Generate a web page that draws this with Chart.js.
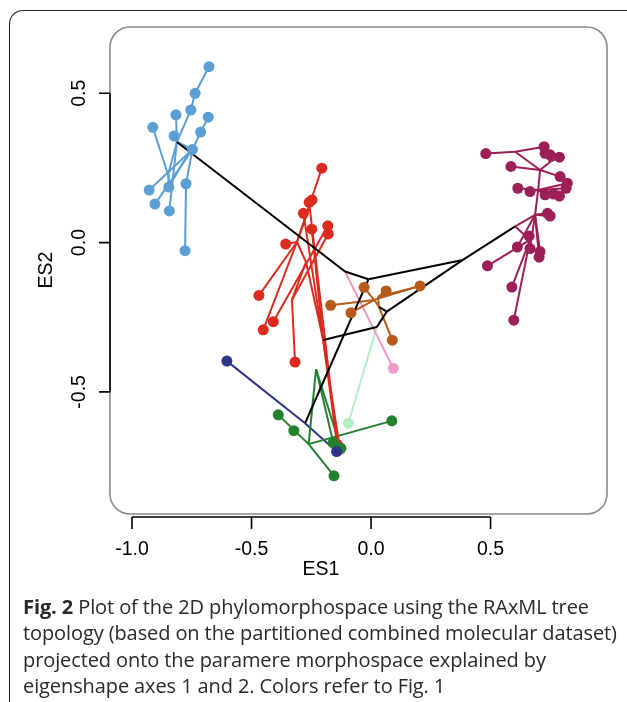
<!DOCTYPE html>
<html lang="en">
<head>
  <meta charset="UTF-8" />
  <title>Phylomorphospace ES1 / ES2</title>
  <script src="https://cdn.jsdelivr.net/npm/chart.js"></script>
  <style>
    html, body { margin: 0; padding: 0; background: #fff; }
    body { width: 627px; height: 702px; position: relative; overflow: hidden; }
    #frame {
      position: absolute; left: 9px; top: 10px; width: 700px; height: 800px;
      border-top: 1.5px solid #222; border-left: 1.5px solid #222;
      border-top-left-radius: 14px;
    }
    #wrap { position: absolute; left: 0; top: 0; width: 627px; height: 600px; }
    #caption {
      position: absolute; left: 23px; top: 594px; width: 604px;
      font-family: "Open Sans", sans-serif; font-size: 20px; line-height: 26.3px;
      letter-spacing: -0.1px; color: #2a2a2a; white-space: nowrap;
    }
    #caption b { font-weight: 700; }
  </style>
</head>
<body>
  <div id="frame"></div>
  <div id="wrap"><canvas id="chart" width="627" height="600"></canvas></div>
  <div id="caption">
    <b>Fig. 2</b> Plot of the 2D phylomorphospace using the RAxML tree<br>
    topology (based on the partitioned combined molecular dataset)<br>
    projected onto the paramere morphospace explained by<br>
    eigenshape axes 1 and 2. Colors refer to Fig. 1
  </div>

<script>
  // axis ticks
  const xTicks = [-1.0, -0.5, 0.0, 0.5];
  const xTickLabels = ['-1.0', '-0.5', '0.0', '0.5'];
  const yTicks = [-0.5, 0.0, 0.5];
  const yTickLabels = ['-0.5', '0.0', '0.5'];

  // tips (ES1, ES2), one list per clade colour
  const blueTips = [[-0.678,0.589],[-0.736,0.500],[-0.754,0.444],[-0.816,0.428],[-0.681,0.420],
    [-0.913,0.386],[-0.713,0.370],[-0.824,0.357],[-0.747,0.312],[-0.928,0.176],[-0.846,0.186],
    [-0.774,0.197],[-0.904,0.129],[-0.844,0.106],[-0.778,-0.027]];
  const redTips = [[-0.206,0.249],[-0.259,0.135],[-0.247,0.143],[-0.283,0.098],[-0.248,0.045],
    [-0.181,0.056],[-0.179,0.029],[-0.357,-0.005],[-0.469,-0.177],[-0.409,-0.265],[-0.451,-0.292],
    [-0.318,-0.400],[-0.142,-0.675],[-0.130,-0.692]];
  const brownTips = [[-0.029,-0.150],[0.063,-0.162],[0.205,-0.145],[-0.169,-0.210],[-0.084,-0.235],[0.089,-0.327]];
  const pinkTips = [[0.093,-0.421]];
  const paleGreenTips = [[-0.095,-0.605]];
  const greenTips = [[-0.388,-0.577],[-0.323,-0.630],[-0.155,-0.781],[0.087,-0.597],[-0.158,-0.670],[-0.126,-0.689]];
  const navyTips = [[-0.603,-0.397],[-0.144,-0.700]];
  const magentaTips = [[0.480,0.298],[0.724,0.321],[0.728,0.299],[0.749,0.294],[0.788,0.286],
    [0.585,0.255],[0.791,0.221],[0.821,0.199],[0.816,0.182],[0.614,0.182],[0.665,0.171],
    [0.728,0.160],[0.763,0.163],[0.788,0.156],[0.738,0.098],[0.749,0.089],[0.661,0.022],
    [0.612,-0.015],[0.665,-0.020],[0.707,-0.030],[0.703,-0.049],[0.487,-0.078],[0.589,-0.149],[0.597,-0.260]];

  // tree branches [x1, y1, x2, y2]
  const blackEdges = [
    [-0.812,0.337,-0.109,-0.097], [-0.109,-0.097,-0.011,-0.123], [-0.011,-0.123,0.384,-0.058],
    [0.384,-0.058,0.603,0.054], [0.384,-0.058,0.066,-0.231], [0.066,-0.231,0.024,-0.283],
    [0.066,-0.231,0.033,-0.215], [0.024,-0.283,-0.200,-0.326], [-0.011,-0.123,-0.276,-0.605]
  ];
  const blueEdges = [
    [-0.678,0.589,-0.736,0.500], [-0.736,0.500,-0.754,0.444], [-0.754,0.444,-0.812,0.337],
    [-0.816,0.428,-0.812,0.337], [-0.824,0.357,-0.812,0.337], [-0.913,0.386,-0.849,0.227],
    [-0.849,0.227,-0.812,0.337], [-0.849,0.227,-0.846,0.186], [-0.681,0.420,-0.713,0.370],
    [-0.713,0.370,-0.747,0.312], [-0.747,0.312,-0.774,0.197], [-0.774,0.197,-0.778,-0.027],
    [-0.747,0.312,-0.928,0.176], [-0.747,0.312,-0.904,0.129], [-0.812,0.337,-0.844,0.106],
    [-0.812,0.337,-0.747,0.312], [-0.846,0.186,-0.770,0.290]
  ];
  const redEdges = [
    [-0.206,0.249,-0.310,0.002], [-0.310,0.002,-0.469,-0.177], [-0.310,0.002,-0.451,-0.292],
    [-0.310,0.002,-0.357,-0.005], [-0.310,0.002,-0.272,-0.065], [-0.272,-0.065,-0.200,-0.326],
    [-0.259,0.135,-0.142,-0.675], [-0.283,0.098,-0.130,-0.692], [-0.248,0.045,-0.200,-0.326],
    [-0.181,0.056,-0.409,-0.265], [-0.179,0.029,-0.331,-0.192], [-0.331,-0.192,-0.318,-0.400],
    [-0.331,-0.192,-0.272,-0.065], [-0.247,0.143,-0.310,0.002], [-0.200,-0.326,-0.142,-0.675]
  ];
  const brownEdges = [
    [0.033,-0.215,0.089,-0.327], [0.033,-0.215,0.013,-0.192], [0.013,-0.192,-0.029,-0.150],
    [0.013,-0.192,-0.169,-0.210], [0.013,-0.192,-0.084,-0.235], [0.033,-0.215,0.029,-0.182],
    [0.029,-0.182,0.205,-0.145], [0.029,-0.182,0.063,-0.162], [0.013,-0.192,0.205,-0.145]
  ];
  const pinkEdges = [[-0.109,-0.097,0.093,-0.421]];
  const paleGreenEdges = [[0.024,-0.283,-0.095,-0.605]];
  const navyEdges = [[-0.276,-0.605,-0.603,-0.397], [-0.276,-0.605,-0.144,-0.700]];
  const greenEdges = [
    [-0.230,-0.424,-0.261,-0.675], [-0.230,-0.424,-0.158,-0.670], [-0.230,-0.424,-0.126,-0.689],
    [-0.261,-0.675,-0.388,-0.577], [-0.261,-0.675,-0.155,-0.781], [-0.261,-0.675,0.087,-0.597]
  ];
  const magentaEdges = [
    [0.603,0.054,0.665,0.009], [0.603,0.054,0.686,0.093],
    [0.665,0.009,0.597,-0.260], [0.665,0.009,0.589,-0.149], [0.665,0.009,0.487,-0.078], [0.665,0.009,0.661,0.022],
    [0.686,0.093,0.707,-0.030], [0.686,0.093,0.703,-0.049], [0.686,0.093,0.612,-0.015], [0.686,0.093,0.665,-0.020],
    [0.686,0.093,0.738,0.098], [0.686,0.093,0.749,0.089], [0.686,0.093,0.699,0.176],
    [0.699,0.176,0.614,0.182], [0.699,0.176,0.665,0.171], [0.699,0.176,0.728,0.160], [0.699,0.176,0.763,0.163],
    [0.699,0.176,0.788,0.156], [0.699,0.176,0.816,0.182], [0.699,0.176,0.821,0.199], [0.699,0.176,0.707,0.243],
    [0.707,0.243,0.791,0.221], [0.707,0.243,0.585,0.255], [0.707,0.243,0.603,0.304], [0.707,0.243,0.749,0.270],
    [0.603,0.304,0.480,0.298], [0.603,0.304,0.724,0.321],
    [0.749,0.270,0.728,0.299], [0.749,0.270,0.749,0.294], [0.749,0.270,0.788,0.286]
  ];

  const groups = [
    { tips: [], edges: blackEdges, color: '#000000' },
    { tips: blueTips, edges: blueEdges, color: '#5b9fd4' },
    { tips: redTips, edges: redEdges, color: '#dc2a1e' },
    { tips: magentaTips, edges: magentaEdges, color: '#9c1f58' },
    { tips: brownTips, edges: brownEdges, color: '#b65a1c' },
    { tips: pinkTips, edges: pinkEdges, color: '#f09ac6' },
    { tips: paleGreenTips, edges: paleGreenEdges, color: '#b4ecc4' },
    { tips: greenTips, edges: greenEdges, color: '#22802f' },
    { tips: navyTips, edges: navyEdges, color: '#2e3588' }
  ];

  const datasets = [];
  groups.forEach((g, gi) => {
    g.edges.forEach(e => {
      datasets.push({
        data: [{ x: e[0], y: e[1] }, { x: e[2], y: e[3] }],
        showLine: true, borderColor: g.color, borderWidth: 2,
        pointRadius: 0, order: 100
      });
    });
    if (g.tips.length) {
      datasets.push({
        data: g.tips.map(p => ({ x: p[0], y: p[1] })),
        showLine: false, pointRadius: 5.5, pointBorderWidth: 0,
        backgroundColor: g.color, borderColor: g.color, order: 50 - gi
      });
    }
  });

  const font = "19.5px 'Liberation Sans', Arial, sans-serif";

  const rAxes = {
    id: 'rAxes',
    beforeDatasetsDraw(chart) {
      const { ctx, chartArea: a } = chart;
      ctx.save();
      ctx.strokeStyle = '#8a8a8a';
      ctx.lineWidth = 1.6;
      ctx.beginPath();
      ctx.roundRect(a.left, a.top, a.right - a.left, a.bottom - a.top, 20);
      ctx.stroke();
      ctx.restore();
    },
    afterDraw(chart) {
      const { ctx, chartArea: a, scales: { x, y } } = chart;
      ctx.save();
      ctx.strokeStyle = '#000';
      ctx.fillStyle = '#000';
      ctx.lineWidth = 1.6;
      ctx.font = font;

      // x axis
      const ay = a.bottom + 3;
      ctx.beginPath();
      ctx.moveTo(x.getPixelForValue(xTicks[0]), ay);
      ctx.lineTo(x.getPixelForValue(xTicks[xTicks.length - 1]), ay);
      xTicks.forEach(v => {
        const px = x.getPixelForValue(v);
        ctx.moveTo(px, ay);
        ctx.lineTo(px, ay + 12);
      });
      ctx.stroke();
      ctx.textAlign = 'center';
      ctx.textBaseline = 'middle';
      xTicks.forEach((v, i) => ctx.fillText(xTickLabels[i], x.getPixelForValue(v), ay + 33));
      ctx.fillText('ES1', 321, ay + 53);

      // y axis
      const ax = a.left;
      ctx.beginPath();
      ctx.moveTo(ax, y.getPixelForValue(yTicks[0]));
      ctx.lineTo(ax, y.getPixelForValue(yTicks[yTicks.length - 1]));
      yTicks.forEach(v => {
        const py = y.getPixelForValue(v);
        ctx.moveTo(ax, py);
        ctx.lineTo(ax - 11, py);
      });
      ctx.stroke();
      yTicks.forEach((v, i) => {
        ctx.save();
        ctx.translate(ax - 30, y.getPixelForValue(v));
        ctx.rotate(-Math.PI / 2);
        ctx.fillText(yTickLabels[i], 0, 0);
        ctx.restore();
      });
      ctx.save();
      ctx.translate(47, 270);
      ctx.rotate(-Math.PI / 2);
      ctx.fillText('ES2', 0, 0);
      ctx.restore();
      ctx.restore();
    }
  };

  new Chart(document.getElementById('chart'), {
    type: 'scatter',
    data: { datasets },
    options: {
      responsive: false,
      animation: false,
      events: [],
      layout: { padding: { left: 110, right: 20, top: 27, bottom: 86 } },
      plugins: { legend: { display: false }, tooltip: { enabled: false } },
      scales: {
        x: { type: 'linear', min: -1.092, max: 0.987, display: false },
        y: { type: 'linear', min: -0.909, max: 0.722, display: false }
      }
    },
    plugins: [rAxes]
  });
</script>
</body>
</html>
